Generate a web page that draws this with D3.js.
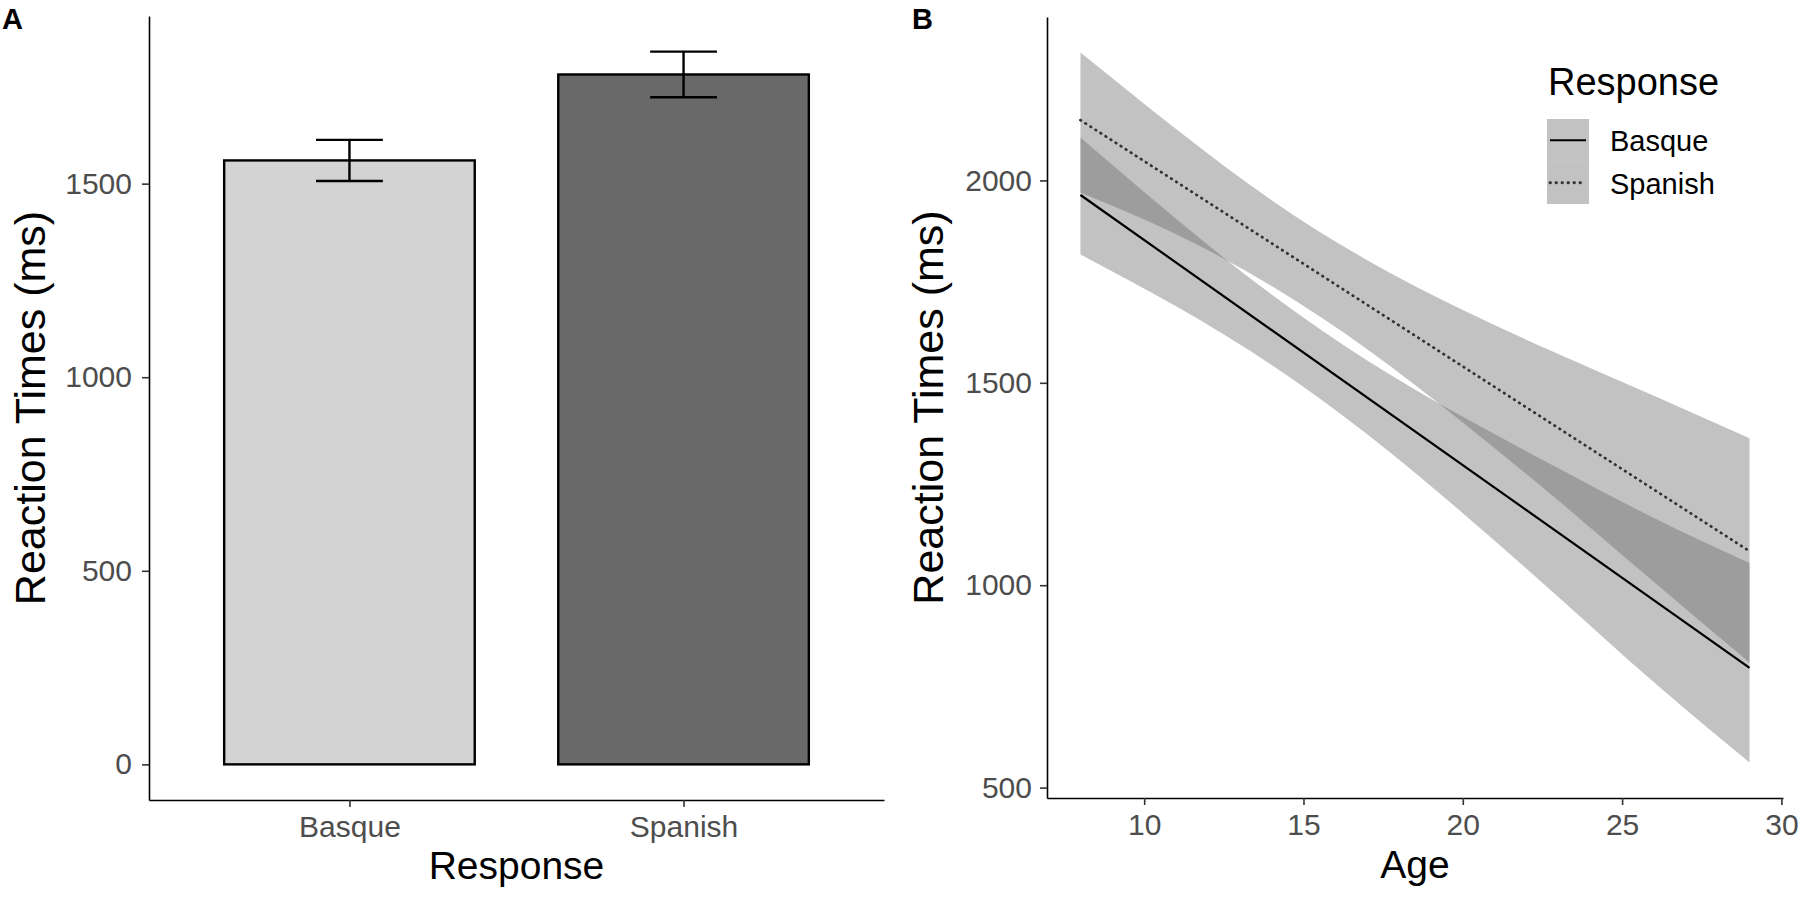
<!DOCTYPE html>
<html>
<head>
<meta charset="utf-8">
<script src="https://cdn.jsdelivr.net/npm/d3@7"></script>
<style>
  body { margin: 0; background: #fff; }
  svg { display: block; font-family: "Liberation Sans", Arial, Helvetica, sans-serif; }
</style>
</head>
<body>
<script>
// Panel A: mean reaction time per response language
const categories = ["Basque", "Spanish"];
const meanRT = [1560, 1782];
const seRT = [53, 59];
const barFills = ["#d3d3d3", "#696969"];
const ticksA = [0, 500, 1000, 1500];

// Panel B: linear fits of reaction time on age, with confidence ribbons
const ageFit = [8, 29];
const basqueFit = [1964, 796];
const spanishFit = [2149, 1084];
const ageBand = [8, 11, 14, 17, 20, 23, 26, 29];
const basqueLow = [1817, 1689, 1544, 1373, 1178, 971, 760, 562];
const basqueHigh = [2106, 1905, 1718, 1555, 1416, 1289, 1166, 1055];
const spanishLow = [1970, 1867, 1739, 1583, 1402, 1209, 1008, 809];
const spanishHigh = [2316, 2127, 1951, 1803, 1680, 1571, 1468, 1363];
const ticksBx = [10, 15, 20, 25, 30];
const ticksBy = [500, 1000, 1500, 2000];

const W = 1800, H = 900;
const svg = d3.select("body").append("svg")
    .attr("width", W)
    .attr("height", H);

// ggplot style 5% expansion
function expand(lo, hi) {
    const pad = (hi - lo) * 0.05;
    return [lo - pad, hi + pad];
}

function styleAxis(g) {
    g.select(".domain").attr("stroke", "#000").attr("stroke-width", 1.6);
    g.selectAll(".tick line").attr("stroke", "#333").attr("stroke-width", 1.6);
    g.selectAll(".tick text").attr("fill", "#4d4d4d").style("font-size", "30px");
}

// ---------- Panel A ----------
const A = { left: 149, right: 884, top: 16, bottom: 800 };
const topA = d3.max(meanRT.map((m, i) => m + seRT[i]));
const xA = d3.scalePoint().domain(categories).range([A.left, A.right]).padding(0.6);
const yA = d3.scaleLinear().domain(expand(0, topA)).range([A.bottom, A.top]);
const barW = xA.step() * 0.75;
const capW = xA.step() * 0.2;

const bars = categories.map((c, i) => ({ c, m: meanRT[i], se: seRT[i], fill: barFills[i] }));

svg.append("g").selectAll("rect")
    .data(bars)
    .enter()
    .append("rect")
    .attr("x", d => xA(d.c) - barW / 2)
    .attr("width", barW)
    .attr("y", d => yA(d.m))
    .attr("height", d => yA(0) - yA(d.m))
    .attr("fill", d => d.fill)
    .attr("stroke", "#000")
    .attr("stroke-width", 2.4);

const err = svg.append("g").attr("stroke", "#000").attr("stroke-width", 2.4);
err.selectAll(".stem").data(bars).enter().append("line")
    .attr("x1", d => xA(d.c)).attr("x2", d => xA(d.c))
    .attr("y1", d => yA(d.m - d.se)).attr("y2", d => yA(d.m + d.se));
err.selectAll(".capTop").data(bars).enter().append("line")
    .attr("x1", d => xA(d.c) - capW / 2).attr("x2", d => xA(d.c) + capW / 2)
    .attr("y1", d => yA(d.m + d.se)).attr("y2", d => yA(d.m + d.se));
err.selectAll(".capBot").data(bars).enter().append("line")
    .attr("x1", d => xA(d.c) - capW / 2).attr("x2", d => xA(d.c) + capW / 2)
    .attr("y1", d => yA(d.m - d.se)).attr("y2", d => yA(d.m - d.se));

svg.append("g")
    .attr("transform", `translate(${A.left},0)`)
    .call(d3.axisLeft(yA).tickValues(ticksA).tickFormat(d3.format("d"))
        .tickSize(7).tickSizeOuter(0).tickPadding(10))
    .call(styleAxis);

svg.append("g")
    .attr("transform", `translate(0,${A.bottom})`)
    .call(d3.axisBottom(xA).tickSize(7).tickSizeOuter(0).tickPadding(9))
    .call(styleAxis);

svg.append("text")
    .attr("x", (A.left + A.right) / 2).attr("y", 879)
    .attr("text-anchor", "middle").style("font-size", "39px")
    .text("Response");

svg.append("text")
    .attr("transform", `translate(45,${(A.top + A.bottom) / 2}) rotate(-90)`)
    .attr("text-anchor", "middle").style("font-size", "43px")
    .text("Reaction Times (ms)");

svg.append("text")
    .attr("x", 2).attr("y", 29)
    .style("font-size", "29px").style("font-weight", "bold")
    .text("A");

// ---------- Panel B ----------
const B = { left: 1047, right: 1783, top: 17, bottom: 798 };
const xB = d3.scaleLinear().domain(expand(d3.min(ageBand), d3.max(ageBand))).range([B.left, B.right]);
const yB = d3.scaleLinear()
    .domain(expand(d3.min(basqueLow.concat(spanishLow)), d3.max(basqueHigh.concat(spanishHigh))))
    .range([B.bottom, B.top]);

const ribbon = d3.area()
    .x(d => xB(d.age))
    .y0(d => yB(d.lo))
    .y1(d => yB(d.hi))
    .curve(d3.curveNatural);

const bands = [
    ageBand.map((a, i) => ({ age: a, lo: basqueLow[i], hi: basqueHigh[i] })),
    ageBand.map((a, i) => ({ age: a, lo: spanishLow[i], hi: spanishHigh[i] }))
];

svg.append("g").selectAll("path")
    .data(bands)
    .enter()
    .append("path")
    .attr("d", ribbon)
    .attr("fill", "#666")
    .attr("fill-opacity", 0.4);

const fitLine = d3.line().x(d => xB(d.age)).y(d => yB(d.rt));
const fits = [
    { name: "Basque", pts: ageFit.map((a, i) => ({ age: a, rt: basqueFit[i] })), color: "#000", dash: null, w: 2.2, cap: "butt" },
    { name: "Spanish", pts: ageFit.map((a, i) => ({ age: a, rt: spanishFit[i] })), color: "#333", dash: "0.5,5.5", w: 2.8, cap: "round" }
];

svg.append("g").selectAll("path")
    .data(fits)
    .enter()
    .append("path")
    .attr("d", d => fitLine(d.pts))
    .attr("fill", "none")
    .attr("stroke", d => d.color)
    .attr("stroke-width", d => d.w)
    .attr("stroke-linecap", d => d.cap)
    .attr("stroke-dasharray", d => d.dash);

svg.append("g")
    .attr("transform", `translate(${B.left},0)`)
    .call(d3.axisLeft(yB).tickValues(ticksBy).tickFormat(d3.format("d"))
        .tickSize(7).tickSizeOuter(0).tickPadding(8))
    .call(styleAxis);

svg.append("g")
    .attr("transform", `translate(0,${B.bottom})`)
    .call(d3.axisBottom(xB).tickValues(ticksBx).tickSize(7).tickSizeOuter(0).tickPadding(9))
    .call(styleAxis);

svg.append("text")
    .attr("x", (B.left + B.right) / 2).attr("y", 878)
    .attr("text-anchor", "middle").style("font-size", "39px")
    .text("Age");

svg.append("text")
    .attr("transform", `translate(943,${(B.top + B.bottom) / 2}) rotate(-90)`)
    .attr("text-anchor", "middle").style("font-size", "43px")
    .text("Reaction Times (ms)");

svg.append("text")
    .attr("x", 912).attr("y", 29)
    .style("font-size", "29px").style("font-weight", "bold")
    .text("B");

// Legend
const leg = svg.append("g").attr("transform", "translate(1547,0)");
leg.append("text")
    .attr("x", 1).attr("y", 95)
    .style("font-size", "38px")
    .text("Response");

const keyH = 42.5;
const keys = leg.selectAll(".key")
    .data(fits)
    .enter()
    .append("g")
    .attr("transform", (d, i) => `translate(0,${119 + i * keyH})`);

keys.append("rect")
    .attr("width", 42).attr("height", keyH)
    .attr("fill", "#666").attr("fill-opacity", 0.4);

keys.append("line")
    .attr("x1", 3).attr("x2", 39)
    .attr("y1", keyH / 2).attr("y2", keyH / 2)
    .attr("stroke", d => d.color)
    .attr("stroke-width", d => d.w)
    .attr("stroke-linecap", d => d.cap)
    .attr("stroke-dasharray", d => d.dash);

keys.append("text")
    .attr("x", 63).attr("y", keyH / 2 + 11)
    .style("font-size", "29px")
    .text(d => d.name);
</script>
</body>
</html>
